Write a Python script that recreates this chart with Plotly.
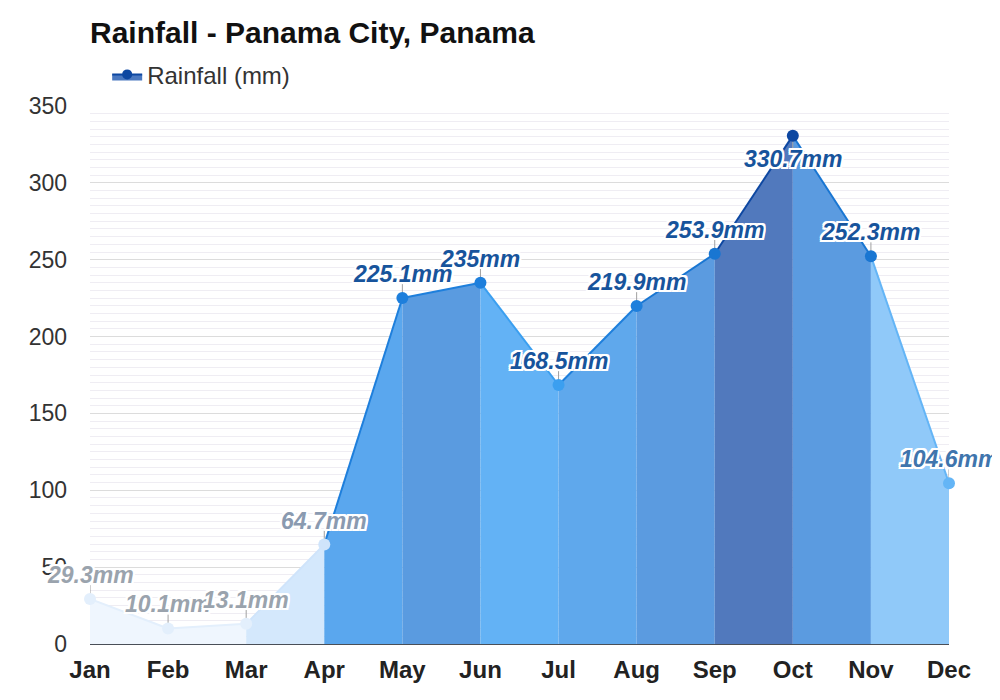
import plotly.graph_objects as go

# monthly rainfall, Panama City
months = ['Jan', 'Feb', 'Mar', 'Apr', 'May', 'Jun', 'Jul', 'Aug', 'Sep', 'Oct', 'Nov', 'Dec']
rainfall = [29.3, 10.1, 13.1, 64.7, 225.1, 235, 168.5, 219.9, 253.9, 330.7, 252.3, 104.6]
labels = [f"{v:g}mm" for v in rainfall]

# styles per month (fill/line of the segment ending at that month)
point_colors = ['#e3effc', '#e3effc', '#e3effc', '#cfe4fb', '#1e7fdc', '#1e7fdc',
                '#3b9ff0', '#1e7fdc', '#1976d2', '#0d47a1', '#1976d2', '#64b5f6']
fill_colors = ['#eff6fe', '#eff6fe', '#eff6fe', '#d4e8fc', '#5aa7ee', '#5a9be0',
               '#63b2f5', '#5fa8ec', '#5b9be0', '#5179bd', '#5b9be0', '#90c9f9']
label_colors = ['#9aa3ad', '#9aa3ad', '#9aa3ad', '#8a9ab0', '#17549c', '#17549c',
                '#17549c', '#17549c', '#17549c', '#17549c', '#17549c', '#3f75ad']
label_above = [True] * 12
label_above[9] = False

FONT = 'Liberation Sans, Arial, sans-serif'
# page body has an 8px margin, so the figure is a bit smaller than the window
W, H = 992, 692

fig = go.Figure()

for i in range(1, len(months)):
    fig.add_trace(go.Scatter(
        x=months[i - 1:i + 1], y=rainfall[i - 1:i + 1],
        mode='lines', fill='tozeroy', fillcolor=fill_colors[i],
        line=dict(color=point_colors[i], width=2),
        showlegend=False, hoverinfo='skip', cliponaxis=False,
    ))

fig.add_trace(go.Scatter(
    x=months, y=rainfall, mode='markers',
    marker=dict(color=point_colors, size=12),
    error_y=dict(type='data', symmetric=False,
                 array=[9 if a else 0 for a in label_above],
                 arrayminus=[0 if a else 9 for a in label_above],
                 color='#a0a0a0', thickness=1, width=0),
    showlegend=False, cliponaxis=False,
))

# legend-only entry
fig.add_trace(go.Scatter(
    x=[None], y=[None], mode='lines+markers', fill='tozeroy',
    fillcolor='#4a78c0', line=dict(color='#0d47a1', width=2),
    marker=dict(color='#0d47a1', size=10), name='Rainfall (mm)',
))

shadow = ('2px 2px 0 #fff, -2px -2px 0 #fff, 2px -2px 0 #fff, -2px 2px 0 #fff, '
          '0 2px 0 #fff, 0 -2px 0 #fff, 2px 0 0 #fff, -2px 0 0 #fff')
for m, v, t, c, a in zip(months, rainfall, labels, label_colors, label_above):
    fig.add_annotation(
        x=m, y=v, text=t, showarrow=False,
        yshift=24 if a else -23,
        font=dict(family=FONT, size=23, color=c, weight='bold', style='italic', shadow=shadow),
    )

fig.update_layout(
    width=W, height=H,
    margin=dict(l=82, r=51, t=98, b=56),
    paper_bgcolor='white', plot_bgcolor='white',
    font=dict(family=FONT),
    title=dict(text='<b>Rainfall - Panama City, Panama</b>', x=82 / W, xanchor='left',
               y=1 - 24 / H, yanchor='middle', font=dict(size=30, color='#111111')),
    legend=dict(x=0.02, xanchor='left', y=1.058, yanchor='middle', orientation='h',
                font=dict(size=24, color='#333333'), bgcolor='rgba(0,0,0,0)'),
    xaxis=dict(type='category', range=[0, 11], showgrid=False,
               showline=True, linecolor='#4a4f57', linewidth=1,
               tickfont=dict(size=24, color='#222222', weight='bold'),
               ticklabelstandoff=4),
    yaxis=dict(range=[0, 350], dtick=50, showgrid=True, gridcolor='#dcdcdc',
               zeroline=False, tickfont=dict(size=23, color='#333333'),
               ticklabelstandoff=22,
               minor=dict(dtick=5, showgrid=True, gridcolor='#efedf3')),
)

fig.write_html('out.html')
